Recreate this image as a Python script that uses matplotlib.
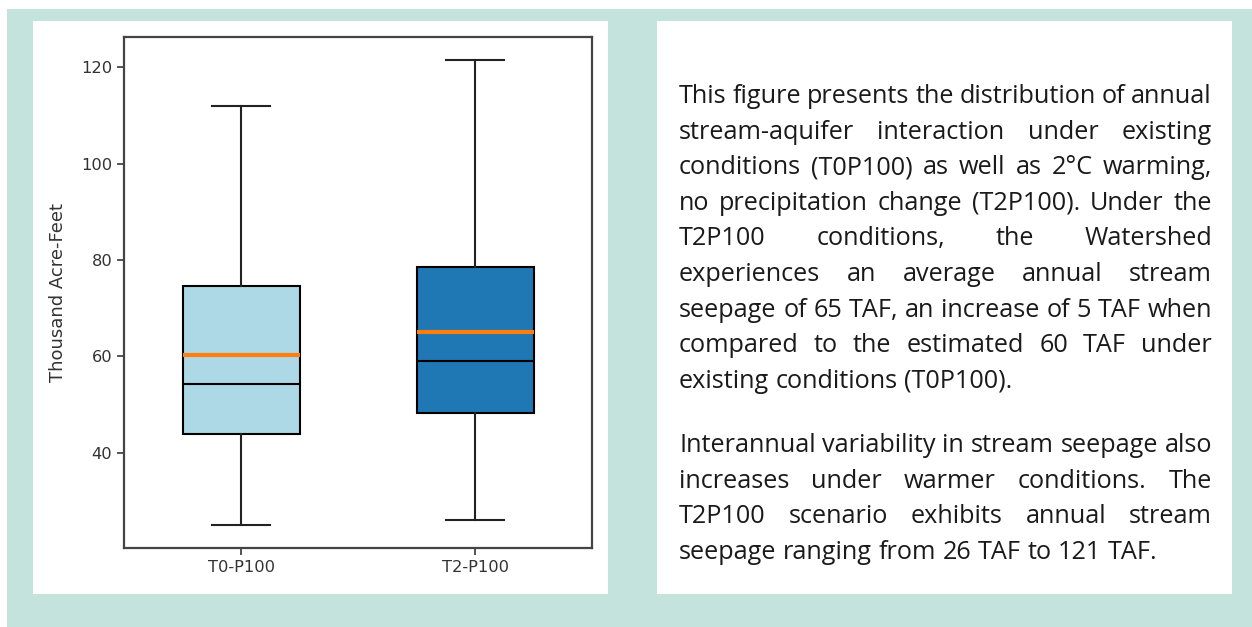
import matplotlib
matplotlib.use("Agg")
import matplotlib.pyplot as plt
from matplotlib.patches import Rectangle

# annual stream-aquifer interaction, thousand acre-feet
scenarios = ["T0-P100", "T2-P100"]
whisker_low = [25.0, 26.0]
q1 = [43.8, 48.2]
medians = [54.2, 59.0]
means = [60.3, 65.0]
q3 = [74.5, 78.6]
whisker_high = [112.0, 121.5]
box_colors = ["#add8e6", "#1f77b4"]

paragraphs = [
    ["This figure presents the distribution of annual",
     "stream-aquifer interaction under existing",
     "conditions (T0P100) as well as 2°C warming,",
     "no precipitation change (T2P100). Under the",
     "T2P100 conditions, the Watershed",
     "experiences an average annual stream",
     "seepage of 65 TAF, an increase of 5 TAF when",
     "compared to the estimated 60 TAF under",
     "existing conditions (T0P100)."],
    ["Interannual variability in stream seepage also",
     "increases under warmer conditions. The",
     "T2P100 scenario exhibits annual stream",
     "seepage ranging from 26 TAF to 121 TAF."],
]

W, H = 1252, 627
fig = plt.figure(figsize=(W / 100, H / 100), dpi=100, facecolor="white")


def px_rect(x0, y0, x1, y1, color):
    # rectangle given in pixel coords measured from the top-left corner
    fig.patches.append(Rectangle((x0 / W, 1 - y1 / H), (x1 - x0) / W, (y1 - y0) / H,
                                 transform=fig.transFigure, facecolor=color,
                                 edgecolor="none", zorder=-10))


px_rect(7, 9, W, H, "#c5e3dd")
px_rect(33, 21, 608, 594, "white")
px_rect(657, 21, 1232, 594, "white")

# boxplot panel
ax = fig.add_axes([124 / W, 1 - 548 / H, 468 / W, 511 / H])
stats = []
for i in range(len(scenarios)):
    stats.append(dict(label=scenarios[i], whislo=whisker_low[i], q1=q1[i], med=medians[i],
                      mean=means[i], q3=q3[i], whishi=whisker_high[i], fliers=[]))
bp = ax.bxp(stats, positions=[1, 2], widths=0.5, patch_artist=True,
            showmeans=True, meanline=True,
            boxprops=dict(edgecolor="black", linewidth=1.5),
            whiskerprops=dict(color="#222222", linewidth=1.5),
            capprops=dict(color="#222222", linewidth=1.5),
            medianprops=dict(color="black", linewidth=1.5),
            meanprops=dict(color="#ff7f0e", linestyle="-", linewidth=3))
for patch, c in zip(bp["boxes"], box_colors):
    patch.set_facecolor(c)
ax.set_xlim(0.5, 2.5)
ax.set_ylabel("Thousand Acre-Feet", fontsize=13, color="#333333", labelpad=10)
ax.tick_params(labelsize=11.7, labelcolor="#333333", length=5, width=1.3, color="#444444")
for s in ax.spines.values():
    s.set_linewidth(1.6)
    s.set_color("#444444")

# justified text block on the right
font = dict(family="Open Sans", size=18.2, color="#1a1a1a")
left, right = 679, 1212
renderer = fig.canvas.get_renderer()
baseline = 103
for p, lines in enumerate(paragraphs):
    if p > 0:
        baseline += 28.5
    for li, line in enumerate(lines):
        words = line.split(" ")
        texts = [fig.text(0, 1 - baseline / H, w, va="baseline", ha="left", **font) for w in words]
        widths = [t.get_window_extent(renderer).width for t in texts]
        last = li == len(lines) - 1
        if last or len(words) == 1:
            probe = fig.text(0, 0, "a a", **font)
            pa = fig.text(0, 0, "aa", **font)
            gap = probe.get_window_extent(renderer).width - pa.get_window_extent(renderer).width
            probe.remove()
            pa.remove()
        else:
            gap = (right - left - sum(widths)) / (len(words) - 1)
        x = left
        for t, w in zip(texts, widths):
            t.set_x(x / W)
            x += w + gap
        baseline += 35.6

fig.savefig("out.png", dpi=100, facecolor=fig.get_facecolor())
